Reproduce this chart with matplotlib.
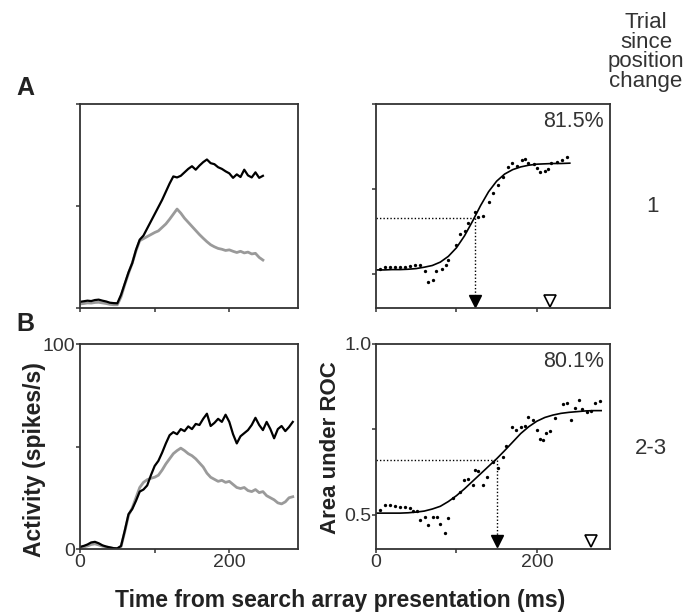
import matplotlib.pyplot as plt

plt.rcParams['font.family'] = ['Liberation Sans', 'DejaVu Sans']

# ---- DATA ----
# PSTH sample times (ms)
t_psth_a = list(range(0, 250, 5))
t_psth_b = list(range(0, 290, 5))

# A: activity (spikes/s), trial 1 after position change
psth_a_black = [3.0, 3.3, 3.6, 3.4, 3.9, 4.1, 3.6, 3.2, 2.6, 2.4,
                2.3, 6.5, 12.0, 17.5, 22.0, 28.5, 33.5, 35.5, 39.0, 42.5,
                46.0, 49.5, 53.0, 57.0, 61.0, 64.5, 64.0, 64.8, 66.5, 68.2,
                69.5, 67.8, 69.8, 71.5, 72.8, 71.0, 70.5, 69.0, 68.2, 67.0,
                66.0, 63.8, 65.5, 64.2, 67.8, 65.0, 64.0, 66.5, 63.8, 64.8]
psth_a_gray = [2.0, 2.2, 2.5, 2.4, 2.7, 2.8, 2.5, 2.2, 1.8, 1.6,
               1.6, 5.5, 11.5, 17.0, 22.0, 28.0, 33.0, 34.0, 35.0, 36.0,
               37.0, 37.8, 39.5, 41.2, 43.5, 46.0, 48.5, 46.5, 44.0, 42.0,
               40.0, 38.0, 36.0, 34.2, 32.5, 31.0, 30.0, 29.2, 28.8, 28.2,
               28.5, 27.8, 27.2, 27.8, 27.0, 27.4, 26.5, 26.8, 24.8, 23.5]

# B: trials 2-3 after position change
psth_b_black = [1.0, 1.5, 2.2, 3.2, 3.5, 2.8, 1.8, 1.2, 0.8, 0.4,
                0.3, 1.5, 9.0, 17.0, 19.5, 23.5, 28.0, 29.0, 31.0, 36.0,
                40.5, 43.0, 47.0, 51.5, 55.5, 57.0, 56.0, 58.5, 57.5, 59.8,
                58.5, 61.0, 60.5, 63.5, 66.0, 60.0, 61.5, 63.5, 62.0, 65.5,
                62.0, 56.0, 51.5, 55.0, 56.5, 58.0, 60.5, 64.0, 60.5, 58.0,
                62.0, 58.5, 54.0, 58.5, 60.0, 57.5, 59.5, 62.0]
psth_b_gray = [0.8, 1.0, 1.5, 2.2, 2.5, 2.0, 1.4, 1.0, 0.6, 0.3,
               0.2, 1.2, 8.5, 16.5, 20.0, 25.0, 30.0, 32.5, 33.8, 34.5,
               35.0, 36.0, 38.5, 41.5, 44.0, 46.5, 48.0, 49.2, 48.0, 46.5,
               45.5, 44.0, 42.0, 40.0, 37.0, 35.0, 34.0, 33.0, 33.5, 32.5,
               33.0, 31.5, 30.0, 29.5, 30.0, 28.5, 28.0, 29.0, 27.5, 28.0,
               26.0, 25.0, 24.0, 22.5, 22.0, 23.0, 25.0, 25.5]

roc_a_t = [5, 11, 17, 24, 30, 36, 42, 48, 55, 61, 65, 71, 75, 82, 87, 90,
           100, 104, 111, 115, 123, 127, 133, 140, 146, 152, 158, 164, 169,
           175, 181, 185, 189, 196, 200, 204, 210, 214, 218, 225, 231, 237]
roc_a_val = [0.515, 0.520, 0.520, 0.520, 0.520, 0.520, 0.524, 0.526, 0.526,
             0.510, 0.477, 0.482, 0.510, 0.514, 0.526, 0.541, 0.585, 0.618,
             0.627, 0.649, 0.683, 0.669, 0.671, 0.713, 0.737, 0.762, 0.786,
             0.814, 0.827, 0.818, 0.835, 0.837, 0.827, 0.824, 0.811, 0.801,
             0.804, 0.808, 0.827, 0.830, 0.835, 0.845]
fit_a_t = [0, 10, 20, 30, 40, 50, 60, 70, 80, 90, 100, 110, 120, 130,
           140, 150, 160, 170, 180, 190, 200, 210, 220, 230, 241]
fit_a_val = [0.512, 0.512, 0.513, 0.513, 0.514, 0.516, 0.520, 0.525, 0.535,
             0.552, 0.577, 0.612, 0.655, 0.701, 0.742, 0.773, 0.794, 0.807,
             0.815, 0.820, 0.823, 0.824, 0.825, 0.825, 0.826]
latency_a = 123      # filled triangle
latency_a_val = 0.666
marker_open_a = 216  # open triangle
pct_a = "81.5%"

# ROC area, B
roc_b_t = [5, 11, 17, 24, 30, 36, 42, 46, 51, 55, 61, 65, 71, 76, 80, 86,
           90, 96, 104, 109, 115, 121, 123, 127, 133, 138, 146, 152, 158,
           162, 169, 174, 180, 185, 189, 195, 200, 204, 208, 212, 217, 223,
           232, 238, 243, 247, 252, 256, 262, 267, 272, 278]
roc_b_val = [0.514, 0.529, 0.529, 0.526, 0.524, 0.524, 0.519, 0.510, 0.512,
             0.485, 0.495, 0.471, 0.495, 0.495, 0.473, 0.446, 0.490, 0.549,
             0.568, 0.602, 0.604, 0.588, 0.631, 0.627, 0.588, 0.610, 0.656,
             0.636, 0.670, 0.702, 0.758, 0.748, 0.758, 0.760, 0.786, 0.778,
             0.748, 0.721, 0.719, 0.739, 0.744, 0.783, 0.825, 0.828, 0.778,
             0.812, 0.836, 0.809, 0.802, 0.805, 0.826, 0.834]
fit_b_t = [0, 10, 20, 30, 40, 50, 60, 70, 80, 90, 100, 110, 120, 130, 140,
           150, 160, 170, 180, 190, 200, 210, 220, 230, 240, 250, 260, 270, 280]
fit_b_val = [0.505, 0.505, 0.505, 0.505, 0.506, 0.508, 0.511, 0.517, 0.525,
             0.539, 0.556, 0.576, 0.598, 0.620, 0.642, 0.664, 0.688, 0.713,
             0.738, 0.758, 0.774, 0.785, 0.792, 0.797, 0.800, 0.802, 0.804,
             0.805, 0.805]
latency_b = 150
latency_b_val = 0.661
marker_open_b = 267
pct_b = "80.1%"

trial_labels = ["1", "2-3"]

# ---- FIGURE ----
W, H = 698, 616
fig = plt.figure(figsize=(W / 100, H / 100), dpi=100)


def px_axes(x0, y0, x1, y1):
    return fig.add_axes([x0 / W, 1 - y1 / H, (x1 - x0) / W, (y1 - y0) / H])


ax_pa = px_axes(80, 104, 298, 308)
ax_ra = px_axes(376, 104, 610, 308)
ax_pb = px_axes(80, 344, 298, 549)
ax_rb = px_axes(376, 344, 610, 549)

SPINE = '#333333'
TXT = '#333333'
BOLD_TXT = '#222222'

for ax in (ax_pa, ax_ra, ax_pb, ax_rb):
    for s in ax.spines.values():
        s.set_color(SPINE)
        s.set_linewidth(1.3)
    ax.tick_params(direction='out', length=3, width=1.1, color=SPINE,
                   labelsize=14, labelcolor=TXT, pad=0.5)

# PSTH panels
for ax, t, blk, gry in ((ax_pa, t_psth_a, psth_a_black, psth_a_gray),
                        (ax_pb, t_psth_b, psth_b_black, psth_b_gray)):
    ax.plot(t, gry, color='#9a9a9a', lw=2.0, solid_joinstyle='round')
    ax.plot(t, blk, color='black', lw=1.6, solid_joinstyle='round')
    ax.set_xlim(0, 292)
    ax.set_ylim(0, 100)
    ax.set_xticks([0, 100, 200])
    ax.set_yticks([0, 50, 100])

# ROC panels
for ax, dt, dv, ft, fv, lat, latv, opn, pct in (
        (ax_ra, roc_a_t, roc_a_val, fit_a_t, fit_a_val, latency_a, latency_a_val, marker_open_a, pct_a),
        (ax_rb, roc_b_t, roc_b_val, fit_b_t, fit_b_val, latency_b, latency_b_val, marker_open_b, pct_b)):
    ax.set_xlim(0, 291)
    ax.set_ylim(0.4, 1.0)
    ax.set_xticks([0, 100, 200])
    ax.set_yticks([0.5, 0.75, 1.0])
    ax.plot(ft, fv, color='black', lw=1.2)
    ax.plot(dt, dv, 'o', color='black', ms=2.4, mec='none')
    ax.plot([0, lat], [latv, latv], color='black', lw=1.0, ls=(0, (1, 1.5)))
    ax.plot([lat, lat], [latv, 0.435], color='black', lw=1.0, ls=(0, (1, 1.5)))
    ax.plot([lat], [0.422], marker='v', color='black', ms=9, ls='none')
    ax.plot([opn], [0.422], marker='v', mfc='white', mec='black', mew=1.2, ms=8.5, ls='none')
    ax.text(0.975, 0.915, pct, transform=ax.transAxes, ha='right', va='center',
            fontsize=15.5, color=TXT)

# tick labels: only bottom row, and only ends labelled
for ax in (ax_pa, ax_ra):
    ax.set_xticklabels([])
    ax.set_yticklabels([])
ax_pb.set_xticklabels(['0', '', '200'])
ax_pb.set_yticklabels(['0', '', '100'])
ax_rb.set_xticklabels(['0', '', '200'])
ax_rb.set_yticklabels(['0.5', '', '1.0'])

fig.text(35 / W, 1 - 460 / H, 'Activity (spikes/s)', rotation=90, ha='center', va='center',
         fontsize=16.5, fontweight='bold', color=BOLD_TXT)
fig.text(331 / W, 1 - 448 / H, 'Area under ROC', rotation=90, ha='center', va='center',
         fontsize=16, fontweight='bold', color=BOLD_TXT)

fig.text(340 / W, 1 - 601 / H, 'Time from search array presentation (ms)',
         ha='center', va='center', fontsize=16.5, fontweight='bold', color=BOLD_TXT)

fig.text(25 / W, 1 - 88 / H, 'A', ha='center', va='center', fontsize=18, fontweight='bold', color=BOLD_TXT)
fig.text(25 / W, 1 - 324 / H, 'B', ha='center', va='center', fontsize=18, fontweight='bold', color=BOLD_TXT)

fig.text(646 / W, 1 - 52 / H, 'Trial\nsince\nposition\nchange', ha='center', va='center',
         fontsize=16, color=TXT, linespacing=0.92)
fig.text(652 / W, 1 - 207 / H, trial_labels[0], ha='center', va='center', fontsize=16, color=TXT)
fig.text(651 / W, 1 - 449 / H, trial_labels[1], ha='center', va='center', fontsize=16, color=TXT)

fig.savefig('out.png', dpi=100)
